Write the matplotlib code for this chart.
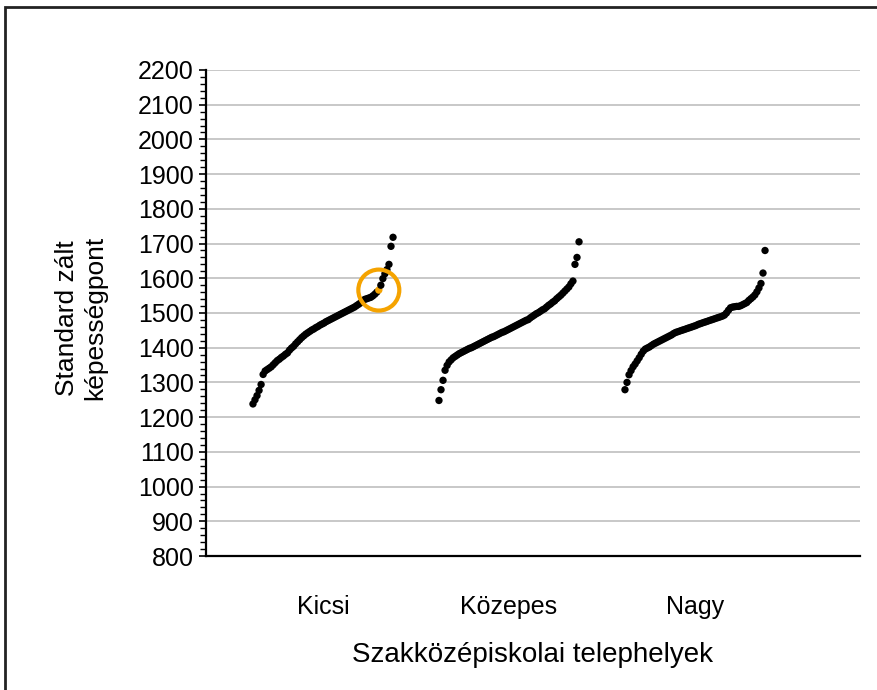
import numpy as np
import matplotlib.pyplot as plt
from matplotlib.patches import Rectangle

plt.rcParams['font.family'] = ['Liberation Sans', 'DejaVu Sans']

categories = ['Kicsi', 'Közepes', 'Nagy']

# sorted standardised scores per school, one list per site size
kicsi = [1238, 1250, 1262, 1277, 1294, 1323, 1333, 1337, 1341, 1345,
         1351, 1357, 1363, 1367, 1372, 1376, 1381, 1385, 1393, 1399,
         1404, 1411, 1417, 1423, 1429, 1434, 1439, 1443, 1447, 1451,
         1454, 1458, 1461, 1465, 1468, 1471, 1475, 1478, 1481, 1484,
         1487, 1490, 1493, 1496, 1499, 1502, 1505, 1508, 1511, 1514,
         1517, 1521, 1525, 1529, 1534, 1539, 1541, 1543, 1545, 1549,
         1554, 1560, 1566, 1580, 1599, 1613, 1625, 1640, 1692, 1718]
kozepes = [1248, 1279, 1306, 1335, 1349, 1359, 1365, 1371, 1375, 1379,
           1383, 1386, 1389, 1392, 1395, 1398, 1400, 1403, 1406, 1409,
           1412, 1415, 1418, 1421, 1424, 1427, 1430, 1432, 1435, 1438,
           1441, 1444, 1446, 1449, 1452, 1455, 1458, 1461, 1464, 1467,
           1470, 1473, 1476, 1479, 1481, 1486, 1490, 1494, 1498, 1501,
           1505, 1509, 1512, 1517, 1522, 1526, 1531, 1535, 1541, 1546,
           1551, 1557, 1563, 1569, 1575, 1584, 1592, 1640, 1660, 1705]
nagy = [1279, 1300, 1322, 1334, 1345, 1353, 1362, 1371, 1381, 1390,
        1396, 1399, 1402, 1406, 1410, 1413, 1416, 1419, 1422, 1425,
        1428, 1431, 1434, 1437, 1441, 1444, 1446, 1448, 1450, 1452,
        1454, 1456, 1458, 1460, 1462, 1464, 1467, 1469, 1471, 1473,
        1475, 1477, 1479, 1481, 1483, 1485, 1487, 1489, 1491, 1494,
        1500, 1508, 1515, 1517, 1518, 1519, 1519, 1521, 1524, 1527,
        1530, 1536, 1541, 1546, 1552, 1561, 1572, 1585, 1615, 1680]
groups = [kicsi, kozepes, nagy]

highlight_group = 0
highlight_index = 62

fig = plt.figure(figsize=(8.77, 6.9), dpi=100)
ax = fig.add_axes([0.2349, 0.1942, 0.7457, 0.7044])

orange = '#f5a300'
width = 0.753
for g, vals in enumerate(groups):
    n = len(vals)
    xs = g + 1 + (np.arange(n) / (n - 1) - 0.5) * width
    cols = ['k'] * n
    if g == highlight_group:
        cols[highlight_index] = orange
        hx, hy = xs[highlight_index], vals[highlight_index]
    ax.scatter(xs, vals, s=28, c=cols, edgecolors='none', zorder=3)

ax.scatter([hx], [hy], s=870, facecolors='none', edgecolors=orange,
           linewidths=3, zorder=4)

ax.set_xlim(0.371, 3.887)
ax.set_ylim(800, 2200)
ax.set_yticks(np.arange(800, 2201, 100))
ax.set_yticks(np.arange(800, 2201, 20), minor=True)
ax.tick_params(axis='y', which='major', length=5, width=1.2, pad=4,
               labelsize=18, direction='out')
ax.tick_params(axis='y', which='minor', length=4, width=1.0, direction='out')
ax.set_xticks([])
ax.grid(axis='y', which='major', color='#c4c4c4', linewidth=1.3)
ax.set_axisbelow(True)
for side in ['top', 'right']:
    ax.spines[side].set_visible(False)
for side in ['left', 'bottom']:
    ax.spines[side].set_linewidth(1.6)

for i, name in enumerate(categories):
    ax.text(i + 1, -0.105, name, transform=ax.get_xaxis_transform(),
            ha='center', va='center', fontsize=18)

fig.text(533 / 877, 1 - 655 / 690, 'Szakközépiskolai telephelyek',
         ha='center', va='center', fontsize=20)
fig.text(81 / 877, 1 - 318 / 690, 'Standard zált\nképességpont',
         rotation=90, ha='center', va='center', fontsize=19)

# outer frame, cut off on the right and bottom
fig.patches.append(Rectangle((5 / 877, -0.1), 2, 1.1 - 7 / 690,
                             transform=fig.transFigure, fill=False,
                             edgecolor='#222222', linewidth=2))

fig.savefig('out.png', dpi=100)
